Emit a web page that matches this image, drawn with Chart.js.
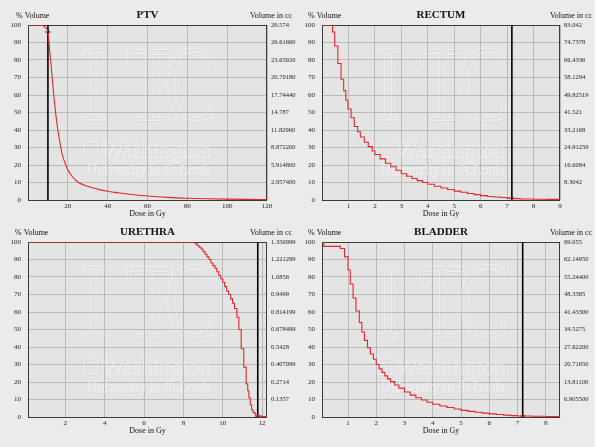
<!DOCTYPE html>
<html>
<head>
<meta charset="utf-8">
<script src="https://cdn.jsdelivr.net/npm/chart.js@4/dist/chart.umd.min.js"></script>
<style>
  html, body { margin: 0; padding: 0; background: #fff; }
  #wrap { position: relative; width: 600px; height: 447px; overflow: hidden; background: #fff; }
  .bg { position: absolute; left: 0; top: 0; width: 595px; height: 447px; background: #ebebeb; }
  canvas { position: absolute; }
</style>
</head>
<body>
<div id="wrap">
  <div class="bg"></div>
  <canvas id="ptvChart" width="300" height="224" style="left:0;top:0"></canvas>
  <canvas id="rectumChart" width="300" height="224" style="left:300px;top:0"></canvas>
  <canvas id="urethraChart" width="300" height="224" style="left:0;top:224px"></canvas>
  <canvas id="bladderChart" width="300" height="224" style="left:300px;top:224px"></canvas>
</div>
<script>
// DVH data (dose in Gy, % volume)
const ptvDose = [0, 5, 7, 8, 9, 10, 11, 12, 13, 14, 15, 16, 17, 18, 20, 22, 25, 30, 35, 40, 50, 60, 70, 80, 90, 100, 110, 120];
const ptvVol = [100, 100, 99.8, 99.3, 98.2, 96, 84, 72, 59, 48.6, 40, 33, 27, 22.9, 17.3, 13.7, 10.3, 7.8, 6.2, 5.0, 3.4, 2.3, 1.5, 1.0, 0.7, 0.5, 0.35, 0.3];

const rectumDose = [0, 0.4, 0.48, 0.6, 0.72, 0.82, 0.9, 0.98, 1.1, 1.22, 1.35, 1.45, 1.6, 1.75, 1.9, 2.0, 2.2, 2.4, 2.6, 2.8, 3.0, 3.2, 3.4, 3.6, 3.8, 4.0, 4.25, 4.5, 4.75, 5.0, 5.25, 5.5, 5.75, 6.0, 6.25, 6.5, 6.75, 7.0, 7.25, 7.5, 8.0, 8.5, 9.0];
const rectumVol = [100, 96, 88, 78, 69, 62.5, 57, 52, 47, 42, 39, 36, 33, 30.5, 28, 26, 23.5, 21, 19, 17, 15, 13.6, 12.3, 11.1, 10, 9, 7.9, 6.9, 6, 5.1, 4.4, 3.7, 3.1, 2.5, 2.0, 1.7, 1.4, 1.1, 0.8, 0.6, 0.45, 0.35, 0.3];

const urethraDose = [0.1, 8.6, 8.7, 8.8, 8.9, 9.0, 9.1, 9.2, 9.3, 9.4, 9.5, 9.6, 9.7, 9.8, 9.9, 10.0, 10.1, 10.2, 10.3, 10.4, 10.5, 10.6, 10.72, 10.82, 10.94, 11.07, 11.19, 11.27, 11.33, 11.4, 11.47, 11.55, 11.65, 11.78, 12.0, 12.25];
const urethraVol = [100, 99, 98, 97, 96, 94.5, 93, 91.5, 90, 88, 86.5, 85, 83, 81, 79, 77, 74.5, 72, 70, 67.5, 65, 62, 57, 50, 39, 28.5, 19, 15, 11, 7, 4, 2.5, 1.2, 0.5, 0.3, 0.2];

const bladderDose = [0.08, 0.14, 0.73, 0.88, 1.0, 1.08, 1.18, 1.28, 1.4, 1.49, 1.58, 1.69, 1.79, 1.9, 2.0, 2.1, 2.2, 2.3, 2.4, 2.5, 2.65, 2.8, 3.0, 3.2, 3.4, 3.6, 3.8, 4.0, 4.25, 4.5, 4.75, 5.0, 5.25, 5.5, 5.75, 6.0, 6.25, 6.5, 6.75, 7.0, 7.5, 8.0, 8.5];
const bladderVol = [100, 97.5, 96.3, 91.5, 84, 76, 68, 60.6, 54, 48.6, 43.8, 39.6, 36, 33, 30, 27.5, 25.5, 23.5, 21.8, 20.2, 18.3, 16.5, 14.3, 12.5, 11, 9.7, 8.4, 7.3, 6.3, 5.4, 4.6, 3.8, 3.2, 2.7, 2.2, 1.8, 1.4, 1.1, 0.8, 0.6, 0.4, 0.3, 0.25];

// marker line (dose, % volume at the crossing)
const ptvMarker = [10, 96];
const rectumMarker = [7.18, 1.0];
const urethraMarker = [11.78, 0.5];
const bladderMarker = [7.18, 0.6];

// x tick labels
const ptvTicks = [20, 40, 60, 80, 100, 120];
const rectumTicks = [1, 2, 3, 4, 5, 6, 7, 8, 9];
const urethraTicks = [2, 4, 6, 8, 10, 12];
const bladderTicks = [1, 2, 3, 4, 5, 6, 7, 8];

// right axis labels, from 100% down to 10%
const ptvCc = ['29.574', '26.61660', '23.65920', '20.70180', '17.74440', '14.787', '11.82960', '8.872200', '5.914800', '2.957400'];
const rectumCc = ['83.042', '74.7378', '66.4336', '58.1294', '49.82519', '41.521', '33.2168', '24.91259', '16.6084', '8.3042'];
const urethraCc = ['1.356999', '1.221299', '1.0856', '0.9499', '0.814199', '0.678499', '0.5428', '0.407099', '0.2714', '0.1357'];
const bladderCc = ['69.055', '62.14950', '55.24400', '48.3385', '41.43300', '34.5275', '27.62200', '20.71650', '13.81100', '6.905500'];

const SERIF = '"Liberation Serif", "DejaVu Serif", serif';
const W = 300, H = 224;

// faint embossed logo behind each plot
const drawWatermark = (ctx, a) => {
    const cx = (a.left + a.right) / 2;
    const top = a.top;
    const pass = (dx, dy, color) => {
        ctx.strokeStyle = color;
        ctx.lineWidth = 1;
        ctx.textAlign = 'center';
        ctx.textBaseline = 'alphabetic';
        [['I', -53], ['T', 2], ['C', 43]].forEach(([ch, off]) => {
            ctx.save();
            ctx.translate(cx + off + dx, top + 95 + dy);
            ctx.scale(0.72, 1);
            ctx.font = '108px ' + SERIF;
            ctx.strokeText(ch, 0, 0);
            ctx.restore();
        });
        ctx.font = '23px ' + SERIF;
        ctx.strokeText('Washington', cx + 10 + dx, top + 133 + dy);
        ctx.strokeRect(cx - 63 + dx, top + 117 + dy, 14, 15);
        ctx.font = '14px ' + SERIF;
        ctx.strokeText('University in St.Louis', cx + 2 + dx, top + 150 + dy);
    };
    ctx.save();
    pass(1, 1, 'rgba(0,0,0,0.035)');
    pass(0, 0, 'rgba(255,255,255,0.4)');
    ctx.restore();
};

const panelDecor = {
    id: 'panelDecor',
    beforeDraw(chart) {
        const { ctx, chartArea: a } = chart;
        ctx.save();
        ctx.fillStyle = '#e4e4e4';
        ctx.fillRect(a.left, a.top, a.width, a.height);
        ctx.restore();
    },
    beforeDatasetsDraw(chart) {
        const { ctx, chartArea: a } = chart;
        drawWatermark(ctx, a);
        ctx.save();
        ctx.strokeStyle = '#3a3a3a';
        ctx.lineWidth = 1;
        ctx.strokeRect(a.left + 0.5, a.top + 0.5, a.width - 1, a.height);
        ctx.restore();
    },
    afterDraw(chart, args, opts) {
        const { ctx, chartArea: a } = chart;
        ctx.save();
        ctx.fillStyle = '#111';
        ctx.textBaseline = 'middle';
        ctx.font = 'bold 11px ' + SERIF;
        ctx.textAlign = 'center';
        ctx.fillText(opts.title, (a.left + a.right) / 2, a.top - 10);
        ctx.font = '8px ' + SERIF;
        ctx.textAlign = 'left';
        ctx.fillText('% Volume', opts.volX, a.top - 9);
        ctx.textAlign = 'right';
        ctx.fillText('Volume in cc', 292, a.top - 9);
        ctx.textAlign = 'center';
        ctx.fillText('Dose in Gy', (a.left + a.right) / 2, a.bottom + 13.5);
        ctx.restore();
    }
};

const makePanel = (id, p) => {
    const tickFont = { family: SERIF, size: 7 };
    const ccFont = { family: SERIF, size: 6.5 };
    new Chart(document.getElementById(id), {
        type: 'line',
        data: {
            datasets: [{
                data: p.dose.map((d, i) => ({ x: d, y: p.vol[i] })),
                borderColor: '#e3262c',
                borderWidth: 1.1,
                pointRadius: 0,
                stepped: p.stepped ? 'before' : false,
                cubicInterpolationMode: p.stepped ? 'default' : 'monotone',
                yAxisID: 'y'
            }, {
                data: [{ x: p.marker[0], y: 0 }, { x: p.marker[0], y: 100 }],
                borderColor: '#000',
                borderWidth: 1.6,
                pointRadius: 0,
                yAxisID: 'y'
            }, {
                data: [{ x: p.marker[0], y: p.marker[1] }],
                showLine: false,
                pointStyle: 'cross',
                pointRadius: 2.5,
                borderColor: '#000',
                borderWidth: 1,
                yAxisID: 'y'
            }]
        },
        options: {
            responsive: false,
            animation: false,
            devicePixelRatio: 1,
            layout: { padding: { top: p.T, left: 0, right: 0, bottom: 0 } },
            plugins: {
                legend: { display: false },
                tooltip: { enabled: false },
                panelDecor: { title: p.title, volX: p.volX }
            },
            scales: {
                x: {
                    type: 'linear',
                    min: p.xMin,
                    max: p.xMax,
                    afterBuildTicks: s => { s.ticks = p.xTicks.map(v => ({ value: v })); },
                    afterFit: s => { s.height = H - p.B; },
                    grid: { color: '#b9b9b9', drawTicks: false },
                    border: { display: false },
                    ticks: { font: tickFont, color: '#222', padding: 2, maxRotation: 0, autoSkip: false }
                },
                y: {
                    position: 'left',
                    min: 0,
                    max: 100,
                    afterFit: s => { s.width = p.L; },
                    grid: { color: '#b9b9b9', drawTicks: false },
                    border: { display: false },
                    ticks: { stepSize: 10, font: tickFont, color: '#222', padding: 7 }
                },
                y1: {
                    position: 'right',
                    min: 0,
                    max: 100,
                    afterFit: s => { s.width = W - p.R; },
                    grid: { display: false, drawTicks: false },
                    border: { display: false },
                    ticks: {
                        stepSize: 10,
                        font: ccFont,
                        color: '#222',
                        padding: 4,
                        callback: v => (v === 0 ? '' : p.cc[Math.round((100 - v) / 10)])
                    }
                }
            }
        },
        plugins: [panelDecor]
    });
};

makePanel('ptvChart', {
    title: 'PTV', dose: ptvDose, vol: ptvVol, marker: ptvMarker, cc: ptvCc,
    xMin: 0, xMax: 120, xTicks: ptvTicks, stepped: false,
    L: 28, R: 267, T: 25, B: 200, volX: 16
});
makePanel('rectumChart', {
    title: 'RECTUM', dose: rectumDose, vol: rectumVol, marker: rectumMarker, cc: rectumCc,
    xMin: 0, xMax: 9, xTicks: rectumTicks, stepped: true,
    L: 22, R: 260, T: 25, B: 200, volX: 8
});
makePanel('urethraChart', {
    title: 'URETHRA', dose: urethraDose, vol: urethraVol, marker: urethraMarker, cc: urethraCc,
    xMin: 0.1, xMax: 12.25, xTicks: urethraTicks, stepped: true,
    L: 28, R: 267, T: 18, B: 193, volX: 15
});
makePanel('bladderChart', {
    title: 'BLADDER', dose: bladderDose, vol: bladderVol, marker: bladderMarker, cc: bladderCc,
    xMin: 0.08, xMax: 8.5, xTicks: bladderTicks, stepped: true,
    L: 22, R: 260, T: 18, B: 193, volX: 8
});
</script>
</body>
</html>
